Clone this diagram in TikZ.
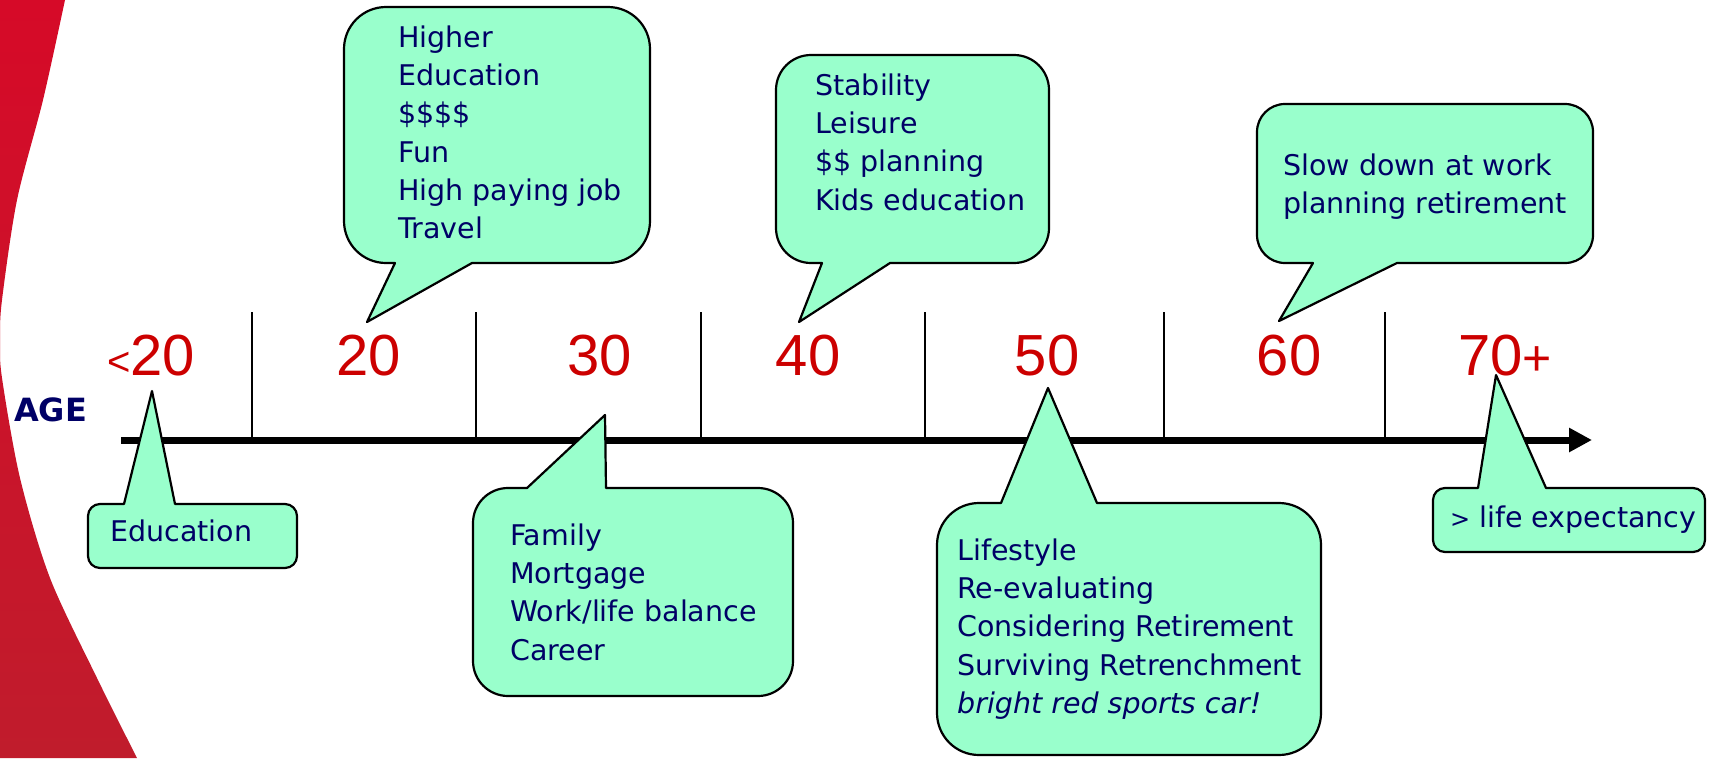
\documentclass[tikz,border=0pt]{standalone}
\usepackage{fontspec}
\setmainfont{DejaVu Sans}[ItalicFont={DejaVu Sans Oblique},BoldFont={DejaVu Sans Bold}]
\newfontfamily\numfont{Liberation Sans}
\usetikzlibrary{arrows.meta}
\definecolor{mint}{RGB}{153,255,204}
\definecolor{navy}{RGB}{0,0,102}
\definecolor{agered}{RGB}{204,0,0}
\definecolor{swooshtop}{RGB}{214,10,40}
\definecolor{swooshbot}{RGB}{192,28,44}
\tikzset{
  bubble/.style={draw=black, fill=mint, line width=2.2pt, line join=round},
  bubbletext/.style={anchor=north west, inner sep=0pt, align=left, text=navy,
    font=\fontsize{28.5}{38.3}\selectfont},
  agelabel/.style={anchor=base, inner sep=0pt, text=agered,
    font=\numfont\fontsize{58}{58}\selectfont},
  tickline/.style={line width=2pt},
}
\begin{document}
\begin{tikzpicture}[x=1pt, y=-1pt]
\clip (0,0) rectangle (1716,758);
% red swoosh on the left
\shade[top color=swooshtop, bottom color=swooshbot] (0,0) -- plot[smooth] coordinates {(65,0) (43,100) (17,200) (2,300) (0,340) (2,378) (20,478) (50,578) (97,678) (137,758)} -- (0,758) -- cycle;
% time line
\foreach \t in {252,476,701,925,1164,1385}
  \draw[tickline] (\t,312) -- (\t,440);
\coordinate (axisstart) at (121,440);
\coordinate (axisend) at (1592,440);
\draw[line width=7pt, -{Triangle[length=23pt,width=23pt]}] (axisstart) -- (axisend);
\node[anchor=base west, inner sep=0pt, text=navy, font=\bfseries\fontsize{32}{32}\selectfont] (age) at (14,421) {AGE};
% callouts above
\draw[bubble] (472,263) [rounded corners=42pt] -- (650,263) -- (650,7) -- (344,7) -- (344,263) [sharp corners] -- (395,263) -- (367,322) -- cycle;
\draw[bubble] (890,263) [rounded corners=35pt] -- (1049,263) -- (1049,55) -- (776,55) -- (776,263) [sharp corners] -- (822,263) -- (799,322) -- cycle;
\draw[bubble] (1397,263) [rounded corners=28pt] -- (1593,263) -- (1593,104) -- (1257,104) -- (1257,263) [sharp corners] -- (1313,263) -- (1279,321) -- cycle;
% callouts below
\draw[bubble] (124,504) [rounded corners=12pt] -- (88,504) -- (88,568) -- (297,568) -- (297,504) [sharp corners] -- (175,504) -- (152,391) -- cycle;
\draw[bubble] (527,488) [rounded corners=35pt] -- (473,488) -- (473,696) -- (793,696) -- (793,488) [sharp corners] -- (606,488) -- (605,415) -- cycle;
\draw[bubble] (1001,503) [rounded corners=42pt] -- (937,503) -- (937,755) -- (1321,755) -- (1321,503) [sharp corners] -- (1097,503) -- (1048,388) -- cycle;
\draw[bubble] (1478,488) [rounded corners=12pt] -- (1433,488) -- (1433,552) -- (1705,552) -- (1705,488) [sharp corners] -- (1546,488) -- (1496,375) -- cycle;
% texts
\node[bubbletext] (higher) at (398,20.2) {\strut Higher\\Education\\\$\$\$\$\\Fun\\High paying job\\Travel};
\node[bubbletext] (stability) at (815,68.2) {\strut Stability\\Leisure\\\$\$ planning\\Kids education};
\node[bubbletext] (slowdown) at (1283,148.2) {\strut Slow down at work\\planning retirement};
\node[bubbletext] (education) at (110,514.2) {\strut Education};
\node[bubbletext] (family) at (510,518.2) {\strut Family\\Mortgage\\Work/life balance\\Career};
\node[bubbletext] (lifestyle) at (957,533.2) {\strut Lifestyle\\Re-evaluating\\Considering Retirement\\Surviving Retrenchment\\\textit{bright red sports car!}};
\node[bubbletext] (expectancy) at (1450,500.2) {\strut{\fontsize{24}{24}\selectfont>} life expectancy};
% ages
\node[agelabel] (lt20) at (151,375) {{\fontsize{40}{40}\selectfont<}20};
\node[agelabel] (a20) at (369,375) {20};
\node[agelabel] (a30) at (600,375) {30};
\node[agelabel] (a40) at (808,375) {40};
\node[agelabel] (a50) at (1047,375) {50};
\node[agelabel] (a60) at (1289,375) {60};
\node[agelabel] (a70) at (1505,375) {70{\fontsize{50}{50}\selectfont+}};
\end{tikzpicture}
\end{document}
